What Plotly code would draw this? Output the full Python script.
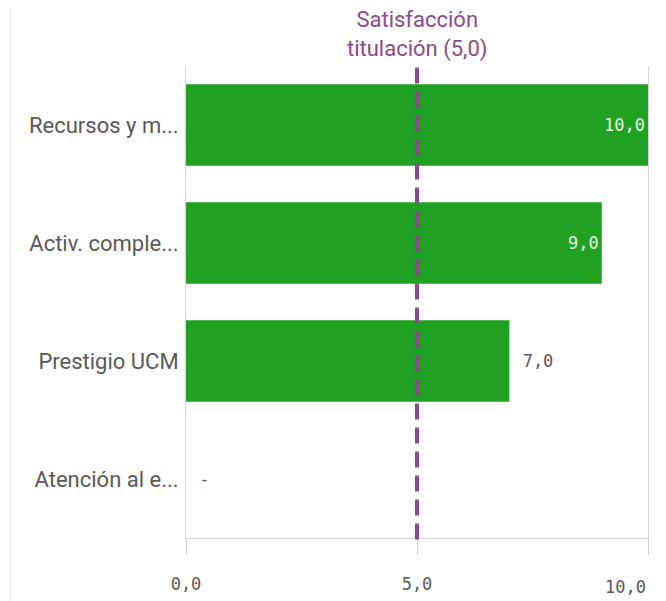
import plotly.graph_objects as go

categorias = ['Recursos y m...', 'Activ. comple...', 'Prestigio UCM', 'Atención al e...']
valores = [10.0, 9.0, 7.0, None]
referencia = 5.0
ref_nombre = 'Satisfacción<br>titulación (5,0)'
ticks = [0, 5, 10]
tick_text = ['0,0', '5,0', '']
ultimo_tick = '10,0'

verde = '#21a121'
morado = '#8b4a8b'
gris = '#595959'
fuente = 'Roboto, Inter, Noto Sans'
mono = 'DejaVu Sans Mono'

x_vals = [v if v is not None else 0 for v in valores]
etiquetas = [f'{v:.1f}'.replace('.', ',') if v is not None else '-' for v in valores]
posiciones = ['inside' if (v is not None and v >= 8) else 'outside' for v in valores]
# un poco de aire entre la barra y la etiqueta exterior
etiquetas = [('\u00a0' + t) if p == 'outside' else t for t, p in zip(etiquetas, posiciones)]

fig = go.Figure()
fig.add_trace(go.Bar(
    y=categorias, x=x_vals, orientation='h',
    marker=dict(color=verde, line=dict(width=0)),
    text=etiquetas, textposition=posiciones,
    insidetextanchor='end',
    insidetextfont=dict(family=mono, size=17, color='#e6f4e6'),
    outsidetextfont=dict(family=mono, size=17, color=gris),
    width=0.69, cliponaxis=False, hoverinfo='skip'))

# linea de referencia
fig.add_shape(type='line', x0=referencia, x1=referencia, xref='x', yref='paper',
              y0=-0.003, y1=1.0, line=dict(color=morado, width=4, dash='16px,8px'))
fig.add_annotation(x=referencia, xref='x', y=1.0, yref='paper', yanchor='bottom', yshift=2,
                   text=ref_nombre, showarrow=False,
                   font=dict(family=fuente, size=22, color=morado))

# etiqueta del ultimo tick alineada a la derecha
fig.add_annotation(x=10, xref='x', y=0, yref='paper', xanchor='right', yanchor='middle',
                   yshift=-49, text=ultimo_tick, showarrow=False,
                   font=dict(family=mono, size=17, color=gris))

# borde del panel vecino
fig.add_shape(type='line', xref='paper', yref='paper', x0=-0.38, x1=-0.38, y0=-0.2, y1=1.2,
              line=dict(color='#e3e3e3', width=1))

fig.update_xaxes(range=[0, 10], tickvals=ticks, ticktext=tick_text,
                 showgrid=False, showline=True, linecolor='#d6d6d6', zeroline=False,
                 ticks='outside', ticklen=16, tickcolor='#d0d0d0',
                 ticklabelstandoff=15,
                 tickfont=dict(family=mono, size=17, color=gris))
fig.update_yaxes(autorange='reversed', showgrid=False, zeroline=False, ticks='',
                 showline=True, mirror=True, linecolor='#d6d6d6',
                 ticklabelstandoff=2,
                 tickfont=dict(family=fuente, size=22, color=gris))

fig.update_layout(width=666, height=601, margin=dict(l=178, r=26, t=58, b=71),
                  plot_bgcolor='white', paper_bgcolor='white', showlegend=False,
                  bargap=0.31)

fig.write_html("out.html")
